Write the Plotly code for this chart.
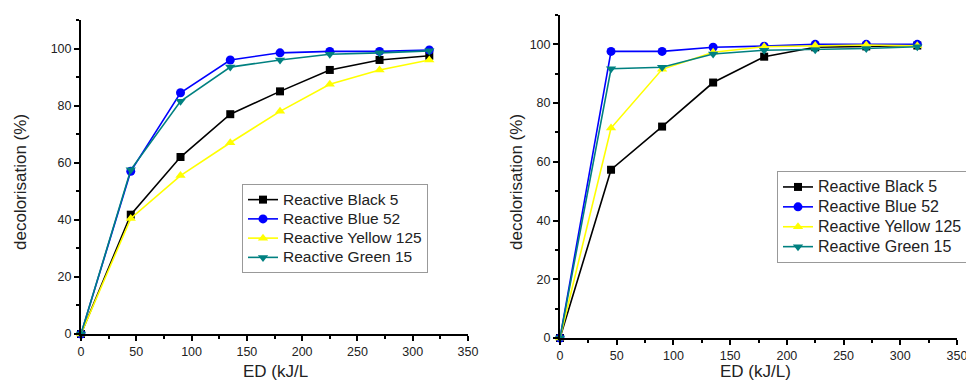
import plotly.graph_objects as go

ed = [0, 45, 90, 135, 180, 225, 270, 315]
names = ["Reactive Black 5", "Reactive Blue 52", "Reactive Yellow 125", "Reactive Green 15"]

left_black = [0, 41.8, 62, 77, 85, 92.5, 96, 97.5]
left_blue = [0, 57, 84.5, 96, 98.5, 99, 99, 99.5]
left_yellow = [0, 40.5, 55.5, 67, 78, 87.5, 92.5, 96]
left_green = [0, 57.5, 81.5, 93.5, 96, 98, 98.5, 99.2]

right_black = [0, 57.3, 72, 87, 95.8, 99, 99.3, 99.6]
right_blue = [0, 97.6, 97.6, 99, 99.4, 100, 100, 100]
right_yellow = [0, 71.5, 91.5, 97.3, 99.2, 99.6, 99.8, 99.5]
right_green = [0, 91.7, 92.2, 96.7, 98, 98.2, 98.6, 99.2]

x_tick_vals = [0, 50, 100, 150, 200, 250, 300, 350]
y_tick_vals = [0, 20, 40, 60, 80, 100]

colors = ["#000000", "#0000FF", "#FFFF00", "#008080"]
symbols = ["square", "circle", "triangle-up", "triangle-down"]
sizes = [8, 9, 9, 9]

W, H = 966, 383
fig = go.Figure()

left_data = [left_black, left_blue, left_yellow, left_green]
right_data = [right_black, right_blue, right_yellow, right_green]

FONT = "Liberation Sans, Arial"


def legend_label(name, size):
    return '<span style="font-size:%spx">%s</span>' % (size, name)


for i in range(4):
    fig.add_trace(go.Scatter(
        x=ed, y=left_data[i], name=legend_label(names[i], 15.5), mode="lines+markers",
        line=dict(color=colors[i], width=1.6),
        marker=dict(symbol=symbols[i], size=sizes[i], color=colors[i]),
        xaxis="x", yaxis="y", legend="legend", cliponaxis=False))
for i in range(4):
    fig.add_trace(go.Scatter(
        x=ed, y=right_data[i], name=legend_label(names[i], 16), mode="lines+markers",
        line=dict(color=colors[i], width=1.6),
        marker=dict(symbol=symbols[i], size=sizes[i], color=colors[i]),
        xaxis="x2", yaxis="y2", legend="legend2", cliponaxis=False))


def px_x(p):
    return p / W


def px_y(p):
    return 1 - p / H


axis_common = dict(
    showline=True, linecolor="black", linewidth=2, showgrid=False, zeroline=False,
    ticks="outside", ticklen=5, tickwidth=2, tickcolor="black",
    tickfont=dict(family=FONT, size=12.5, color="#222"),
    ticklabeloverflow="allow",
)
minor_x = dict(ticks="outside", ticklen=3, tickwidth=2, tickcolor="black", dtick=25, tick0=0)
minor_y = dict(ticks="outside", ticklen=3, tickwidth=2, tickcolor="black", dtick=10, tick0=0)

fig.update_layout(
    width=W, height=H,
    margin=dict(l=0, r=0, t=0, b=0, autoexpand=False),
    paper_bgcolor="white", plot_bgcolor="white",
    font=dict(family=FONT, color="#222"),
    xaxis=dict(domain=[px_x(81), px_x(468)], range=[0, 350], anchor="y",
               tickvals=x_tick_vals, minor=minor_x, **axis_common),
    yaxis=dict(domain=[px_y(334), px_y(20)], range=[0, 110], anchor="x",
               tickvals=y_tick_vals, minor=minor_y, **axis_common),
    xaxis2=dict(domain=[px_x(560), px_x(957)], range=[0, 350], anchor="y2",
                tickvals=x_tick_vals, minor=minor_x, **axis_common),
    yaxis2=dict(domain=[px_y(338), px_y(15)], range=[0, 110], anchor="x2",
                tickvals=y_tick_vals, minor=minor_y, **axis_common),
    legend=dict(x=px_x(242), y=px_y(184), xanchor="left", yanchor="top",
                bordercolor="#999", borderwidth=1, bgcolor="rgba(255,255,255,0)",
                font=dict(family=FONT, size=12.5, color="#222"),
                tracegroupgap=0, itemwidth=30),
    legend2=dict(x=px_x(777), y=px_y(171), xanchor="left", yanchor="top",
                 bordercolor="#999", borderwidth=1, bgcolor="rgba(255,255,255,0)",
                 font=dict(family=FONT, size=13, color="#222"),
                 tracegroupgap=0, itemwidth=30),
    showlegend=True,
)

title_font = dict(family=FONT, size=17, color="#222")
fig.add_annotation(text="decolorisation (%)", x=px_x(21), y=px_y(182), xref="paper", yref="paper",
                   textangle=-90, showarrow=False, font=title_font, xanchor="center", yanchor="middle")
fig.add_annotation(text="decolorisation (%)", x=px_x(517), y=px_y(182), xref="paper", yref="paper",
                   textangle=-90, showarrow=False, font=title_font, xanchor="center", yanchor="middle")
fig.add_annotation(text="ED (kJ/L", x=px_x(275), y=0, xref="paper", yref="paper",
                   showarrow=False, font=title_font, xanchor="center", yanchor="bottom")
fig.add_annotation(text="ED (kJ/L)", x=px_x(755), y=0, xref="paper", yref="paper",
                   showarrow=False, font=title_font, xanchor="center", yanchor="bottom")

fig.write_html("out.html")
